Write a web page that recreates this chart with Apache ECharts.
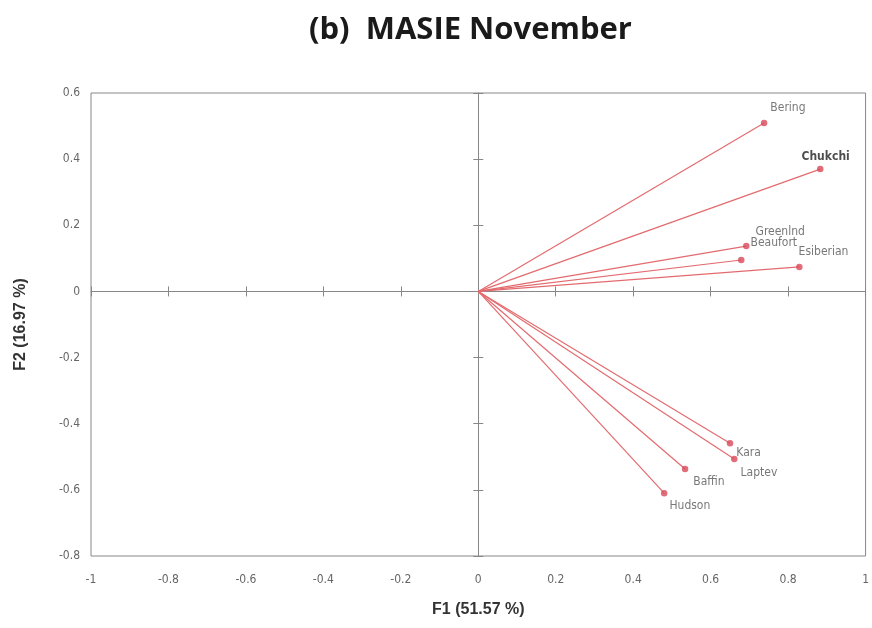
<!DOCTYPE html>
<html><head><meta charset="utf-8">
<script src="https://cdn.jsdelivr.net/npm/echarts@6/dist/echarts.min.js"></script>
<style>html,body{margin:0;padding:0;background:#fff}#c{width:872px;height:628px}</style>
</head><body><div id="c"></div>
<script>
const names = ['Bering','Chukchi','Greenlnd','Beaufort','Esiberian','Kara','Laptev','Baffin','Hudson'];
const f1 = [0.738, 0.883, 0.692, 0.679, 0.829, 0.650, 0.661, 0.534, 0.480];
const f2 = [0.509, 0.370, 0.137, 0.095, 0.074, -0.459, -0.507, -0.537, -0.610];
const xTicks = [-1,-0.8,-0.6,-0.4,-0.2,0,0.2,0.4,0.6,0.8,1];
const yTicks = [-0.8,-0.6,-0.4,-0.2,0,0.2,0.4,0.6];

const labelOffsets = {
  Bering:[-2,-15], Chukchi:[-27,-12], Greenlnd:[1,-14], Beaufort:[1,-17],
  Esiberian:[-9,-15], Kara:[-2,10], Laptev:[-2,14], Baffin:[0,13], Hudson:[-3,13]
};
const red = '#e36b6f';
const series = [];
names.forEach((n,i)=>{
  series.push({type:'line', data:[[0,0],[f1[i],f2[i]]], symbol:'none', silent:true,
    lineStyle:{color:red,width:1.2}, z:2});
});
series.push({type:'scatter', symbolSize:6.5, itemStyle:{color:'#d9485a'}, z:3,
  data: names.map((n,i)=>({value:[f1[i],f2[i]], name:n,
    label:{show:true, position:'right', distance:5, offset:labelOffsets[n],
      formatter:n, color: n==='Chukchi' ? '#222' : '#555',
      fontWeight: n==='Chukchi' ? 'bold' : 'normal',
      fontSize:12, fontFamily:'DejaVu Sans Condensed, Liberation Sans, sans-serif'}}))
});

const fmt = v => (Math.abs(v)<1e-9 ? '0' : String(Math.round(v*10)/10));
const axisCommon = {type:'value', splitLine:{show:false}};
const chart = echarts.init(document.getElementById('c'));
chart.setOption({
  animation:false,
  title:{text:'(b)  MASIE November', left:304, top:10,
    textStyle:{fontSize:31, fontWeight:'bold', color:'#1a1a1a', fontFamily:'Open Sans, Noto Sans, sans-serif'}},
  grid:{left:91, right:6, top:93, bottom:72, show:true, borderColor:'#888', borderWidth:1},
  xAxis:[
    Object.assign({}, axisCommon, {min:-1, max:1, interval:0.2, position:'bottom',
      axisLine:{show:false, onZero:false}, axisTick:{show:false},
      name:'F1 (51.57 %)', nameLocation:'middle', nameGap:46,
      nameTextStyle:{fontSize:16, fontWeight:'bold', color:'#333', fontFamily:'Liberation Sans Narrow, Liberation Sans, sans-serif'},
      axisLabel:{color:'#666', fontSize:12, margin:18, formatter:fmt,
        customValues:xTicks, fontFamily:'DejaVu Sans Condensed, sans-serif'}}),
    Object.assign({}, axisCommon, {min:-1, max:1, interval:0.2,
      axisLine:{show:true, onZero:true, lineStyle:{color:'#888'}},
      axisTick:{show:true, inside:true, length:5, lineStyle:{color:'#888'}}, axisLabel:{show:false}}),
    Object.assign({}, axisCommon, {min:-1, max:1, interval:0.2,
      axisLine:{show:false, onZero:true},
      axisTick:{show:true, inside:false, length:5, lineStyle:{color:'#888'}}, axisLabel:{show:false}})
  ],
  yAxis:[
    Object.assign({}, axisCommon, {min:-0.8, max:0.6, interval:0.2, position:'left',
      axisLine:{show:false, onZero:false}, axisTick:{show:false},
      name:'F2 (16.97 %)', nameLocation:'middle', nameGap:62,
      nameTextStyle:{fontSize:16, fontWeight:'bold', color:'#333', fontFamily:'Liberation Sans Narrow, Liberation Sans, sans-serif'},
      axisLabel:{color:'#666', fontSize:12, margin:11, formatter:fmt,
        customValues:yTicks, fontFamily:'DejaVu Sans Condensed, sans-serif'}}),
    Object.assign({}, axisCommon, {min:-0.8, max:0.6, interval:0.2,
      axisLine:{show:true, onZero:true, lineStyle:{color:'#888'}},
      axisTick:{show:true, inside:true, length:5, lineStyle:{color:'#888'}}, axisLabel:{show:false}}),
    Object.assign({}, axisCommon, {min:-0.8, max:0.6, interval:0.2,
      axisLine:{show:false, onZero:true},
      axisTick:{show:true, inside:false, length:5, lineStyle:{color:'#888'}}, axisLabel:{show:false}})
  ],
  series: series
});
</script></body></html>
